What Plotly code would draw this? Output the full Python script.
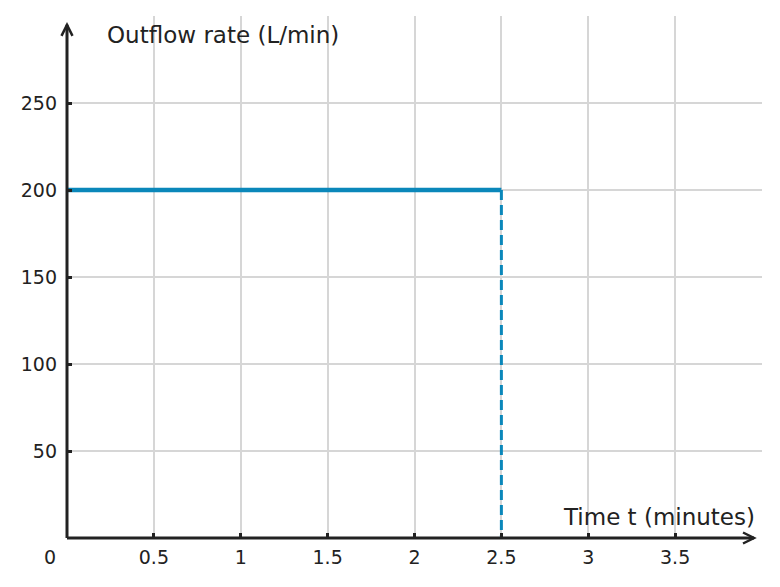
import plotly.graph_objects as go

# Data
t_flow = [0, 2.5]
rate_flow = [200, 200]
t_stop = [2.5, 2.5]
rate_stop = [200, 0]

x_ticks = [0.5, 1, 1.5, 2, 2.5, 3, 3.5]
x_tick_labels = ["0.5", "1", "1.5", "2", "2.5", "3", "3.5"]
y_ticks = [50, 100, 150, 200, 250]
y_tick_labels = ["50", "100", "150", "200", "250"]

x_title = "Time t (minutes)"
y_title = "Outflow rate (L/min)"

BLUE = "#0a87ba"
DARK = "#222222"
GRID = "#d6d6d6"
FONT = "DejaVu Sans"

fig = go.Figure()
fig.add_trace(go.Scatter(x=t_flow, y=rate_flow, mode="lines",
                         line=dict(color=BLUE, width=4.5), hoverinfo="skip"))
fig.add_trace(go.Scatter(x=t_stop, y=rate_stop, mode="lines",
                         line=dict(color=BLUE, width=3, dash="10px,5px"), hoverinfo="skip"))

X_MAX, Y_MAX = 4, 300
X_TIP = 0.9885   # paper fraction of x-axis arrow tip
Y_TIP = 0.983    # paper fraction of y-axis arrow tip

shapes = [
    dict(type="line", xref="paper", yref="paper", x0=0, y0=0, x1=X_TIP, y1=0,
         line=dict(color=DARK, width=3), layer="above"),
    dict(type="line", xref="paper", yref="paper", x0=0, y0=0, x1=0, y1=Y_TIP,
         line=dict(color=DARK, width=3), layer="above"),
    dict(type="path", xref="paper", yref="paper", xsizemode="pixel", ysizemode="pixel",
         xanchor=X_TIP, yanchor=0, path="M -11 5.5 L 0 0 L -11 -5.5",
         line=dict(color=DARK, width=2.5), layer="above"),
    dict(type="path", xref="paper", yref="paper", xsizemode="pixel", ysizemode="pixel",
         xanchor=0, yanchor=Y_TIP, path="M -5.5 -11 L 0 0 L 5.5 -11",
         line=dict(color=DARK, width=2.5), layer="above"),
]

annotations = [
    dict(text=y_title, x=0.054, y=0.964, xref="paper", yref="paper",
         xanchor="left", yanchor="middle", showarrow=False,
         font=dict(family=FONT, size=23, color=DARK)),
    dict(text=x_title, x=0.993, y=0.040, xref="paper", yref="paper",
         xanchor="right", yanchor="middle", showarrow=False,
         font=dict(family=FONT, size=23, color=DARK)),
    dict(text="0", x=-0.025, y=-0.0364, xref="paper", yref="paper",
         xanchor="center", yanchor="middle", showarrow=False,
         font=dict(family=FONT, size=19, color=DARK)),
]

fig.update_layout(
    width=780, height=587,
    margin=dict(l=67, r=18, t=16, b=49),
    paper_bgcolor="white", plot_bgcolor="white",
    showlegend=False,
    shapes=shapes, annotations=annotations,
    xaxis=dict(range=[0, X_MAX], tickvals=x_ticks, ticktext=x_tick_labels,
               showgrid=True, gridcolor=GRID, gridwidth=2, zeroline=False,
               showline=False, ticks="inside", ticklen=5, tickwidth=2.5, tickcolor=DARK,
               ticklabelstandoff=6,
               tickfont=dict(family=FONT, size=19, color=DARK)),
    yaxis=dict(range=[0, Y_MAX], tickvals=y_ticks, ticktext=y_tick_labels,
               showgrid=True, gridcolor=GRID, gridwidth=2, zeroline=False,
               showline=False, ticks="inside", ticklen=5, tickwidth=2.5, tickcolor=DARK,
               ticklabelstandoff=9,
               tickfont=dict(family=FONT, size=19, color=DARK)),
)

fig.write_html("out.html")
